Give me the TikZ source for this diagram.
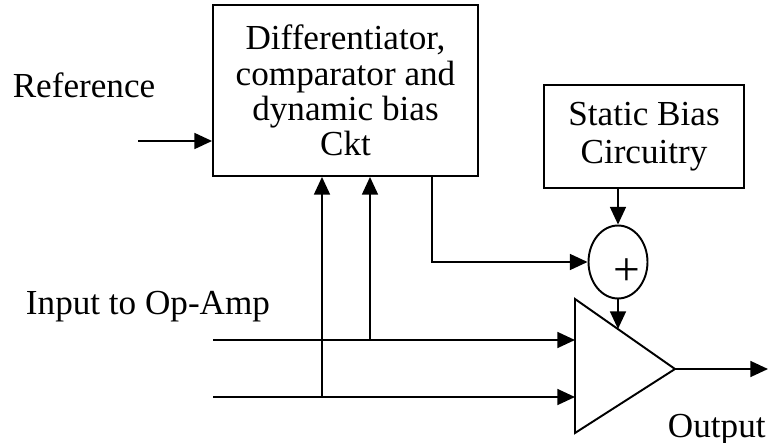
\documentclass[tikz,border=0pt]{standalone}
\usepackage{fontspec}
\setmainfont{Liberation Serif}
\usetikzlibrary{shapes.geometric, arrows.meta, positioning, calc}

\begin{document}
\begin{tikzpicture}[x=0.02cm, y=-0.02cm, line width=1.1pt,
  block/.style={draw, align=center, font=\fontsize{20}{20}\selectfont},
  label/.style={font=\fontsize{20}{24}\selectfont},
  sig/.style={-{Triangle[length=10pt, width=9pt]}}]
  \useasboundingbox (0,0) rectangle (768,443);
  \node[block, minimum width=5.3cm, minimum height=3.42cm] (dcb) at (345.5,90.5)
    {Differentiator,\\comparator and\\dynamic bias\\Ckt};
  \node[block, font=\fontsize{20}{21.5}\selectfont, minimum width=4cm,
    minimum height=2.06cm] (sbc) at (644,136.5) {Static Bias\\Circuitry};
  \node[draw, ellipse, minimum width=1.18cm, minimum height=1.46cm] (sum) at (618,262) {};
  \node[font=\fontsize{27}{27}\selectfont, inner sep=0pt] (plus) at (627,272) {+};
  \node[label] (ref) at (84,85) {Reference};
  \node[label] (inp) at (148,307) {Input to Op-Amp};
  \node[label, anchor=west, inner sep=0pt] (outl) at (667,430) {Output};
  % op-amp
  \coordinate (ampa) at (575,299);
  \coordinate (ampb) at (575,433);
  \coordinate (tip) at (675,369);
  \draw (ampa) -- (tip) -- (ampb) -- cycle;
  \coordinate (amptop) at (618,329);
  \coordinate (in1) at (213,340);
  \coordinate (in2) at (213,397);
  \coordinate (tap1) at (370,340);
  \coordinate (tap2) at (322,397);
  \coordinate (refin) at (138,141);
  \coordinate (dcbout) at (432,176);
  \coordinate (out) at (768,369);
  % connectors
  \draw[sig] (refin) -- (dcb.west |- refin);
  \draw[sig] (in1) -- (ampa |- in1);
  \draw[sig] (in2) -- (ampa |- in2);
  \draw[sig] (tap1) -- (tap1 |- dcb.south);
  \draw[sig] (tap2) -- (tap2 |- dcb.south);
  \draw[sig] (dcbout) |- (sum.west);
  \draw[sig] (sbc.south -| sum.north) -- (sum.north);
  \draw[sig] (sum.south) -- (amptop);
  \draw[sig] (tip) -- (out);
\end{tikzpicture}
\end{document}
